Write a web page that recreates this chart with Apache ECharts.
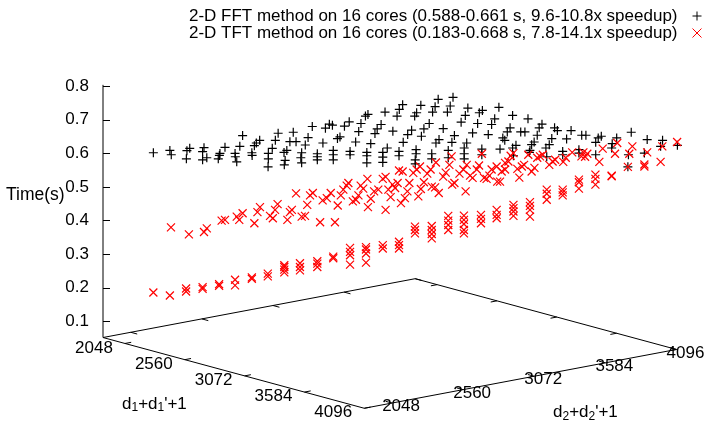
<!DOCTYPE html>
<html><head><meta charset="utf-8">
<style>html,body{margin:0;padding:0;background:#fff}#c{width:719px;height:424px}</style>
<script src="https://cdn.jsdelivr.net/npm/echarts@6/dist/echarts.min.js"></script>
</head><body><div id="c"></div>
<script>
var timeTicks=[0.1,0.2,0.3,0.4,0.5,0.6,0.7,0.8];
var d1Ticks=[2048,2560,3072,3584,4096];
var d2Ticks=[2048,2560,3072,3584,4096];
var legendFFT='2-D FFT method on 16 cores (0.588-0.661 s, 9.6-10.8x speedup)';
var legendTFT='2-D TFT method on 16 cores (0.183-0.668 s, 7.8-14.1x speedup)';
// each point: [position along the base plane (mean of d1,d2 axes), time as read against the time axis]
var fftPoints=[[2228,.602],[2287,.609],[2292,.596],[2348,.608],[2358,.615],[2346,.584],[2409,.617],[2404,.605],[2419,.587],[2404,.581],[2484,.618],[2466,.600],[2464,.594],[2460,.584],[2547,.653],[2537,.621],[2520,.600],[2521,.590],[2526,.575],[2608,.639],[2596,.631],[2589,.623],[2580,.602],[2581,.594],[2674,.660],[2664,.639],[2653,.615],[2639,.600],[2639,.584],[2638,.560],[2728,.663],[2716,.635],[2738,.635],[2705,.609],[2695,.603],[2699,.579],[2696,.566],[2796,.680],[2781,.647],[2771,.625],[2758,.602],[2755,.587],[2758,.572],[2857,.687],[2868,.684],[2843,.675],[2834,.631],[2814,.599],[2814,.590],[2814,.581],[2928,.694],[2911,.681],[2895,.649],[2886,.644],[2871,.609],[2871,.596],[2871,.581],[2995,.716],[2986,.711],[2970,.689],[2962,.665],[2951,.634],[2931,.606],[2931,.596],[3056,.723],[3042,.686],[3028,.673],[3020,.659],[3005,.629],[2991,.603],[2991,.593],[2991,.572],[3119,.745],[3107,.731],[3099,.711],[3084,.666],[3064,.616],[3048,.603],[3048,.589],[3048,.573],[3184,.743],[3169,.721],[3162,.711],[3151,.669],[3137,.656],[3121,.633],[3106,.606],[3106,.593],[3246,.761],[3235,.739],[3226,.723],[3214,.689],[3195,.673],[3186,.651],[3167,.611],[3167,.599],[3164,.581],[3164,.569],[3299,.767],[3289,.741],[3279,.723],[3264,.674],[3249,.641],[3238,.631],[3223,.599],[3223,.584],[3352,.735],[3343,.713],[3328,.693],[3304,.653],[3295,.633],[3282,.609],[3282,.587],[3404,.728],[3393,.721],[3387,.689],[3369,.661],[3348,.631],[3339,.616],[3339,.599],[3339,.584],[3463,.737],[3448,.703],[3437,.686],[3425,.656],[3402,.613],[3402,.596],[3512,.713],[3503,.676],[3493,.664],[3484,.639],[3477,.646],[3467,.613],[3567,.703],[3556,.664],[3541,.664],[3524,.624],[3512,.616],[3515,.593],[3617,.687],[3607,.676],[3600,.654],[3589,.634],[3580,.626],[3574,.609],[3572,.603],[3662,.676],[3672,.668],[3652,.644],[3643,.626],[3631,.616],[3634,.590],[3721,.668],[3705,.643],[3691,.606],[3691,.596],[3759,.654],[3774,.654],[3749,.611],[3749,.601],[3829,.651],[3818,.646],[3809,.633],[3809,.596],[3884,.646],[3868,.629],[3866,.616],[3936,.663],[3926,.596],[3924,.560],[3993,.641],[3983,.601],[4048,.639],[4041,.621],[4101,.624]];
var tftLowerPoints=[[2228,.186],[2287,.177],[2345,.198],[2345,.189],[2404,.202],[2404,.197],[2463,.211],[2463,.206],[2520,.224],[2520,.207],[2580,.231],[2580,.227],[2637,.242],[2637,.234],[2696,.267],[2696,.262],[2696,.254],[2696,.246],[2752,.273],[2752,.262],[2752,.252],[2814,.279],[2814,.272],[2814,.262],[2871,.293],[2871,.288],[2931,.319],[2931,.307],[2931,.297],[2931,.269],[2988,.321],[2988,.314],[2988,.302],[2988,.275],[3048,.327],[3048,.317],[3106,.337],[3106,.327],[3106,.317],[3163,.382],[3163,.372],[3163,.362],[3223,.384],[3223,.372],[3223,.360],[3223,.347],[3282,.414],[3282,.400],[3282,.387],[3282,.372],[3338,.415],[3338,.402],[3338,.390],[3338,.372],[3338,.362],[3399,.417],[3399,.405],[3399,.392],[3455,.432],[3455,.417],[3455,.407],[3515,.447],[3515,.437],[3515,.427],[3515,.414],[3574,.455],[3574,.444],[3574,.432],[3574,.412],[3634,.492],[3634,.480],[3634,.462],[3691,.492],[3691,.484],[3691,.475],[3749,.522],[3749,.514],[3749,.495],[3808,.537],[3808,.524],[3808,.507],[3866,.534],[3866,.532],[3924,.560],[3983,.567],[3983,.561],[4041,.575]];
var tftUpperPoints=[[2291,.380],[2355,.359],[2419,.377],[2409,.366],[2472,.400],[2484,.402],[2547,.422],[2526,.412],[2535,.402],[2589,.392],[2609,.440],[2600,.425],[2672,.449],[2663,.432],[2645,.414],[2655,.407],[2723,.432],[2716,.425],[2707,.402],[2738,.481],[2778,.447],[2798,.482],[2788,.475],[2770,.414],[2758,.412],[2824,.395],[2877,.395],[2862,.482],[2848,.467],[2833,.460],[2887,.445],[2898,.475],[2907,.492],[2925,.512],[2919,.504],[2952,.462],[2941,.457],[2961,.475],[2995,.440],[3005,.465],[2969,.504],[2978,.495],[2993,.524],[3017,.487],[3032,.492],[3048,.524],[3058,.530],[3058,.432],[3068,.492],[3076,.470],[3092,.497],[3101,.512],[3083,.507],[3113,.452],[3127,.467],[3136,.487],[3143,.512],[3106,.549],[3119,.546],[3157,.542],[3169,.552],[3181,.561],[3175,.472],[3184,.494],[3195,.514],[3207,.540],[3219,.552],[3238,.573],[3223,.501],[3235,.499],[3248,.482],[3264,.531],[3273,.543],[3286,.566],[3294,.591],[3296,.507],[3304,.512],[3322,.540],[3336,.552],[3348,.566],[3360,.534],[3369,.527],[3344,.487],[3384,.552],[3392,.564],[3402,.599],[3410,.527],[3419,.524],[3429,.534],[3437,.552],[3455,.561],[3457,.516],[3467,.516],[3473,.546],[3485,.552],[3485,.572],[3497,.576],[3505,.593],[3515,.601],[3529,.554],[3536,.528],[3545,.561],[3553,.566],[3568,.596],[3580,.546],[3590,.557],[3600,.587],[3610,.591],[3620,.596],[3643,.566],[3655,.576],[3664,.581],[3693,.575],[3702,.587],[3725,.603],[3758,.591],[3771,.590],[3765,.603],[3779,.599],[3822,.575],[3834,.614],[3878,.599],[3886,.631],[3929,.599],[3940,.621],[3993,.603],[4047,.621],[4100,.634]];

// 3-D view of the base plane: axis starts and projection onto (plane position, time)
var D1MIN=1860,D2MIN=1848,DMAX=4096,ZBASE=0.052;
function project(d1,d2,z){
  var a=d1-D1MIN,b=d2-D2MIN;
  var px=a*59.83/512+b*71.1/512;
  var py=a*16.2/512-b*13.4/512;
  return [2048+px*3.574,z-py/336];
}
var GAP=[NaN,NaN];
var frame=[project(D1MIN,D2MIN,ZBASE),project(DMAX,D2MIN,ZBASE),project(DMAX,DMAX,ZBASE),project(D1MIN,DMAX,ZBASE),project(D1MIN,D2MIN,ZBASE),project(D1MIN,D2MIN,0.804)];
var ticks=[];
d1Ticks.forEach(function(v){
  ticks.push(project(v,D2MIN,ZBASE),project(v,D2MIN+45,ZBASE),GAP);
  ticks.push(project(v,DMAX,ZBASE),project(v,DMAX-45,ZBASE),GAP);
});
d2Ticks.forEach(function(v){
  ticks.push(project(D1MIN,v,ZBASE),project(D1MIN+55,v,ZBASE),GAP);
  ticks.push(project(DMAX,v,ZBASE),project(DMAX-55,v,ZBASE),GAP);
});
var plus='path://M5,0V10M0,5H10';
var cross='path://M0,0L10,10M0,10L10,0';
function labelSeries(vals,fn,off){
  return {type:'scatter',silent:true,clip:false,symbol:'circle',symbolSize:1,itemStyle:{opacity:0},
    data:vals.map(function(v){return {value:fn(v),name:String(v)};}),
    label:{show:true,position:'inside',offset:off,formatter:'{b}',color:'#000',fontFamily:'Liberation Sans',fontSize:17,opacity:1},
    z:5};
}
var chart=echarts.init(document.getElementById('c'),null,{renderer:'canvas'});
var rich={n:{fontFamily:'Liberation Sans',fontSize:17,color:'#000'},s:{fontFamily:'Liberation Sans',fontSize:12,color:'#000',padding:[8,0,0,0]}};
chart.setOption({
  animation:false,backgroundColor:'#fff',
  grid:{left:103,top:86.2,width:573,height:336},
  legend:{orient:'vertical',right:10,top:2.5,align:'right',itemGap:0,itemWidth:9,itemHeight:9,
    textStyle:{fontFamily:'Liberation Sans',fontSize:17,color:'#000',padding:[0,10,0,0]},
    data:[{name:legendFFT,icon:plus,itemStyle:{color:'none',borderColor:'#000',borderWidth:1}},{name:legendTFT,icon:cross,itemStyle:{color:'none',borderColor:'#f00',borderWidth:1}}]},
  xAxis:{type:'value',min:2048,max:4096,show:false},
  yAxis:{type:'value',min:-0.2,max:0.8,interval:0.1,splitLine:{show:false},axisLine:{show:false},
    axisTick:{show:true,inside:true,length:7,customValues:timeTicks,lineStyle:{color:'#000',width:1}},
    axisLabel:{show:true,margin:14,customValues:timeTicks,formatter:function(v){return v.toFixed(1);},fontFamily:'Liberation Sans',fontSize:17,color:'#000'}},
  graphic:[
    {type:'text',left:6,top:186,style:{text:'Time(s)',fontFamily:'Liberation Sans',fontSize:17.5,fill:'#000'}},
    {type:'text',left:122,top:395.5,style:{rich:rich,text:"{n|d}{s|1}{n|+d}{s|1}{n|'+1}"}},
    {type:'text',left:553,top:404,style:{rich:rich,text:"{n|d}{s|2}{n|+d}{s|2}{n|'+1}"}}
  ],
  series:[
    {type:'line',silent:true,clip:false,showSymbol:false,data:frame,lineStyle:{color:'#000',width:1},z:1},
    {type:'line',silent:true,clip:false,showSymbol:false,connectNulls:false,data:ticks,lineStyle:{color:'#000',width:1},z:1},
    labelSeries(d1Ticks,function(v){return project(v,D2MIN,ZBASE);},[-31,4.5]),
    labelSeries(d2Ticks,function(v){return project(DMAX,v,ZBASE);},[9,3.5]),
    {name:legendFFT,type:'scatter',clip:false,silent:true,data:fftPoints,symbol:plus,symbolSize:9,itemStyle:{color:'none',borderColor:'#000',borderWidth:1.2,opacity:1},z:2},
    {name:legendTFT,type:'scatter',clip:false,silent:true,data:tftUpperPoints.concat(tftLowerPoints),symbol:cross,symbolSize:8,itemStyle:{color:'none',borderColor:'#f00',borderWidth:1.2,opacity:1},z:3}
  ]
});
</script></body></html>
